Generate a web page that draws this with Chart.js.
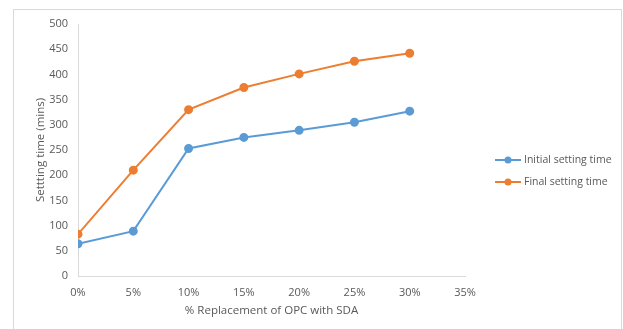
<!DOCTYPE html>
<html>
<head>
<meta charset="utf-8">
<script src="https://cdn.jsdelivr.net/npm/chart.js@4"></script>
<style>
    body { margin: 0; background: #fff; }
    #wrap { width: 623px; height: 329px; }
</style>
</head>
<body>
<div id="wrap"><canvas id="setchart" width="623" height="329"></canvas></div>
<script>
const replacement = [0, 5, 10, 15, 20, 25, 30];
const initialTime = [64, 89, 253, 275, 289, 305, 327];
const finalTime = [83, 210, 330, 374, 401, 426, 442];
const seriesNames = ["Initial setting time", "Final setting time"];
const seriesColors = ["#5B9BD5", "#ED7D31"];

const textColor = "#595959";
const fontFamily = "'Open Sans', 'Liberation Sans', sans-serif";

function toPoints(vals) {
    return replacement.map((x, i) => ({ x: x, y: vals[i] }));
}

// frame around the whole chart, like the Excel chart area
const framePlugin = {
    id: "frame",
    beforeDraw(chart) {
        const c = chart.ctx;
        c.save();
        c.strokeStyle = "#d9d9d9";
        c.lineWidth = 1;
        c.strokeRect(13.5, 9.5, 608, 340);
        c.restore();
    }
};

// legend drawn as line + dot, the way Excel shows it
const legendPlugin = {
    id: "sideLegend",
    afterDraw(chart) {
        const c = chart.ctx;
        c.save();
        chart.data.datasets.forEach((ds, i) => {
            const y = 160 + i * 22;
            c.strokeStyle = ds.borderColor;
            c.lineWidth = 2;
            c.beginPath();
            c.moveTo(495, y);
            c.lineTo(521, y);
            c.stroke();
            c.fillStyle = ds.borderColor;
            c.beginPath();
            c.arc(508, y, 3.5, 0, Math.PI * 2);
            c.fill();
            c.fillStyle = textColor;
            c.font = "10.5px " + fontFamily;
            c.textBaseline = "middle";
            c.fillText(ds.label, 524, y);
        });
        c.restore();
    }
};

const ctx = document.getElementById("setchart").getContext("2d");

window.setChart = new Chart(ctx, {
    type: "line",
    data: {
        datasets: [{
            label: seriesNames[0],
            data: toPoints(initialTime),
            borderColor: seriesColors[0],
            backgroundColor: seriesColors[0],
            borderWidth: 2,
            pointRadius: 3.5,
            tension: 0
        }, {
            label: seriesNames[1],
            data: toPoints(finalTime),
            borderColor: seriesColors[1],
            backgroundColor: seriesColors[1],
            borderWidth: 2,
            pointRadius: 3.5,
            tension: 0
        }]
    },
    options: {
        responsive: false,
        animation: false,
        layout: {
            padding: { left: 30, top: 24, right: 158, bottom: 7 }
        },
        plugins: {
            legend: { display: false },
            tooltip: { enabled: false }
        },
        scales: {
            x: {
                type: "linear",
                min: 0,
                max: 35,
                afterFit(scale) { scale.height = 46; },
                grid: { display: false },
                border: { display: true, color: "#d9d9d9", width: 1 },
                ticks: {
                    stepSize: 5,
                    color: textColor,
                    padding: 2,
                    font: { size: 11, family: fontFamily },
                    callback: v => v + "%"
                },
                title: {
                    display: true,
                    text: "% Replacement of OPC with SDA",
                    color: textColor,
                    font: { size: 11.5, family: fontFamily },
                    padding: { top: 2, bottom: 4 }
                }
            },
            y: {
                min: 0,
                max: 500,
                afterFit(scale) { scale.width = 48; },
                grid: { display: false },
                border: { display: true, color: "#d9d9d9", width: 1 },
                ticks: {
                    stepSize: 50,
                    color: textColor,
                    padding: 2,
                    font: { size: 11, family: fontFamily }
                },
                title: {
                    display: true,
                    text: "Settting time (mins)",
                    color: textColor,
                    font: { size: 11.5, family: fontFamily }
                }
            }
        }
    },
    plugins: [framePlugin, legendPlugin]
});
</script>
</body>
</html>
